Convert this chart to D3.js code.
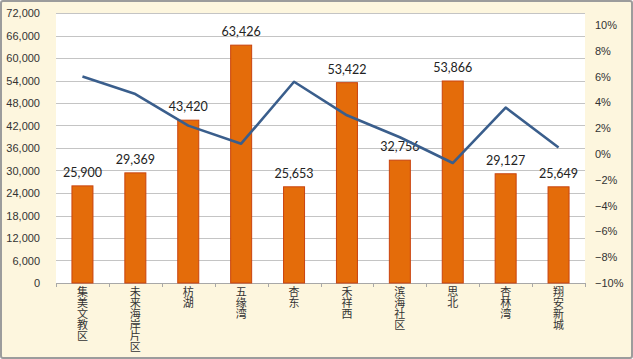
<!DOCTYPE html>
<html>
<head>
<meta charset="utf-8">
<style>
  body { margin: 0; background: #fff; }
  svg { display: block; }
  .ax text { font-family: "Liberation Sans", Arial, sans-serif; font-size: 11px; fill: #333; }
  .cat { writing-mode: vertical-rl; text-orientation: upright; }
</style>
</head>
<body>
<svg id="svg"></svg>
<script src="https://cdn.jsdelivr.net/npm/d3@7"></script>
<script>
  // data
  var areas = ["集美文教区", "未来海岸片区", "枋湖", "五缘湾", "杏东", "禾祥西", "滨海社区", "思北", "杏林湾", "翔安新城"];
  var price = [25900, 29369, 43420, 63426, 25653, 53422, 32756, 53866, 29127, 25649];
  var change = [0.060, 0.0465, 0.022, 0.008, 0.056, 0.030, 0.013, -0.007, 0.036, 0.005];
  var leftTicks = [0, 6000, 12000, 18000, 24000, 30000, 36000, 42000, 48000, 54000, 60000, 66000, 72000];
  var rightTicks = [-0.1, -0.08, -0.06, -0.04, -0.02, 0, 0.02, 0.04, 0.06, 0.08, 0.1];

  var width = 633, height = 359;
  var plot = { left: 56, right: 585, top: 13, bottom: 283 };

  var svg = d3.select("#svg").attr("width", width).attr("height", height);

  // frame
  svg.append("rect")
    .attr("x", 1).attr("y", 1)
    .attr("width", width - 2).attr("height", height - 2)
    .attr("rx", 2)
    .attr("fill", "#fdf6de")
    .attr("stroke", "#9c9c9c")
    .attr("stroke-width", 2);

  svg.append("rect")
    .attr("x", plot.left).attr("y", plot.top)
    .attr("width", plot.right - plot.left).attr("height", plot.bottom - plot.top)
    .attr("fill", "#ffffff");

  var x = d3.scaleBand().domain(areas).range([plot.left, plot.right]).paddingInner(0).paddingOuter(0);
  var y = d3.scaleLinear().domain([0, 72000]).range([plot.bottom, plot.top]);
  var y2 = d3.scaleLinear().domain([-0.1, 0.1]).range([plot.bottom, 25]);

  // gridlines
  svg.append("g")
    .selectAll("line")
    .data(leftTicks)
    .enter()
    .append("line")
    .attr("x1", plot.left).attr("x2", plot.right)
    .attr("y1", function (d) { return Math.round(y(d)) + 0.5; })
    .attr("y2", function (d) { return Math.round(y(d)) + 0.5; })
    .attr("stroke", "#c4c4c4")
    .attr("stroke-width", 1);

  // left axis
  var yAxis = svg.append("g")
    .attr("class", "ax")
    .attr("transform", "translate(" + (plot.left - 13) + ",0)")
    .call(d3.axisLeft(y).tickValues(leftTicks).tickSize(0).tickFormat(d3.format(",")));
  yAxis.select(".domain").remove();

  // right axis
  var y2Axis = svg.append("g")
    .attr("class", "ax")
    .attr("transform", "translate(" + (plot.right + 7) + ",0)")
    .call(d3.axisRight(y2).tickValues(rightTicks).tickSize(0).tickFormat(d3.format(".0%")));
  y2Axis.select(".domain").remove();

  // x axis line and ticks
  svg.append("line")
    .attr("x1", plot.left).attr("x2", plot.right)
    .attr("y1", plot.bottom + 0.5).attr("y2", plot.bottom + 0.5)
    .attr("stroke", "#a8a8a8");

  svg.append("g")
    .selectAll("line")
    .data(d3.range(areas.length + 1))
    .enter()
    .append("line")
    .attr("x1", function (i) { return Math.round(plot.left + i * x.step()) + 0.5; })
    .attr("x2", function (i) { return Math.round(plot.left + i * x.step()) + 0.5; })
    .attr("y1", plot.bottom)
    .attr("y2", plot.bottom + 4)
    .attr("stroke", "#a8a8a8");

  // bars
  var bw = 21;
  svg.append("g")
    .selectAll("rect")
    .data(areas)
    .enter()
    .append("rect")
    .attr("x", function (d) { return x(d) + x.bandwidth() / 2 - bw / 2; })
    .attr("y", function (d, i) { return y(price[i]); })
    .attr("width", bw)
    .attr("height", function (d, i) { return plot.bottom - y(price[i]); })
    .attr("fill", "#e46c0a")
    .attr("stroke", "#c9430e")
    .attr("stroke-width", 1);

  // bar labels
  svg.append("g")
    .selectAll("text")
    .data(areas)
    .enter()
    .append("text")
    .attr("x", function (d) { return x(d) + x.bandwidth() / 2; })
    .attr("y", function (d, i) { return y(price[i]) - 9; })
    .attr("text-anchor", "middle")
    .attr("font-family", "Lato, 'Open Sans', sans-serif")
    .attr("font-size", 12.5)
    .attr("fill", "#222")
    .text(function (d, i) { return d3.format(",")(price[i]); });

  // line
  var line = d3.line()
    .x(function (d, i) { return x(areas[i]) + x.bandwidth() / 2; })
    .y(function (d) { return y2(d); });

  svg.append("path")
    .datum(change)
    .attr("d", line)
    .attr("fill", "none")
    .attr("stroke", "#3a5e8c")
    .attr("stroke-width", 2.6)
    .attr("stroke-linejoin", "round");

  // category labels, vertical
  svg.append("g")
    .selectAll("text")
    .data(areas)
    .enter()
    .append("text")
    .attr("class", "cat")
    .attr("x", function (d) { return x(d) + x.bandwidth() / 2; })
    .attr("y", 286)
    .attr("font-family", "'Noto Sans CJK SC', sans-serif")
    .attr("font-size", 11)
    .attr("fill", "#333")
    .text(function (d) { return d; });
</script>
</body>
</html>
